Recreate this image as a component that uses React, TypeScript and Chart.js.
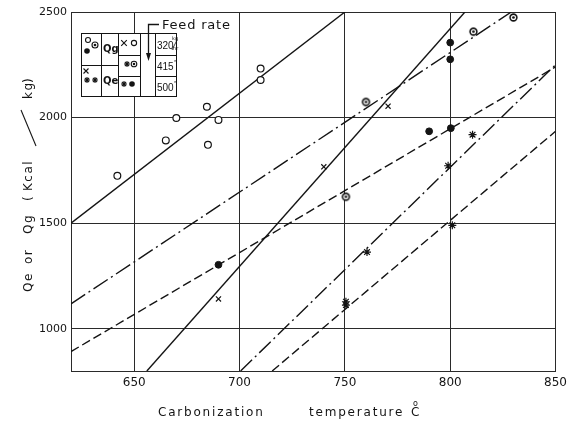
import React, { useEffect, useRef } from "react";
import { Chart, registerables } from "chart.js";
Chart.register(...registerables);

// ---- axes ----
const xMin = 620;
const xMax = 850;
const yMin = 800;
const yMax = 2500;
const xTicks = [650, 700, 750, 800, 850];
const yTicks = [1000, 1500, 2000, 2500];

// ---- fitted lines (end points in data units) ----
const lineQg320X = [620, 750];
const lineQg320Y = [1500, 2500];
const lineQe320X = [656, 807];
const lineQe320Y = [800, 2500];
const lineQg415X = [620, 829];
const lineQg415Y = [1118, 2500];
const lineQg500X = [620, 850];
const lineQg500Y = [892, 2240];
const lineQe415X = [700.5, 850];
const lineQe415Y = [800, 2250];
const lineQe500X = [715.5, 850];
const lineQe500Y = [800, 1935];

// ---- measured points ----
const openCircleX = [642, 665, 670, 684.5, 690, 685, 710, 710];
const openCircleY = [1724, 1892, 1998, 2051, 1989, 1871, 2232, 2178];
const dotCircleX = [760, 811, 830, 750.5];
const dotCircleY = [2074, 2407, 2474, 1625];
const filledX = [800, 800, 690, 790, 800.3];
const filledY = [2355, 2276, 1303, 1935, 1950];
const crossX = [690, 740, 770.5];
const crossY = [1141, 1767, 2054];
const starX = [750.5, 750.5, 760.5, 799, 810.6, 801];
const starY = [1112, 1128, 1363, 1772, 1919, 1490];

const xTitleWords = ["Carbonization", "temperature", "C"];
const yTitleWords = ["Qe", "or", "Qg", "(", "Kcal", "kg", ")"];
const feedRates = ["320", "415", "500"];

const FONT = '"DejaVu Sans", sans-serif';
const NUMFONT = '"Liberation Sans", sans-serif';
const INK = "#141414";

function makeDotCircle(r: number): HTMLCanvasElement {
  const c = document.createElement("canvas");
  const s = Math.ceil(2 * r + 4);
  c.width = s;
  c.height = s;
  const g = c.getContext("2d")!;
  g.strokeStyle = INK;
  g.fillStyle = "#fff";
  g.lineWidth = 1.6;
  g.beginPath();
  g.arc(s / 2, s / 2, r, 0, Math.PI * 2);
  g.fill();
  g.stroke();
  g.fillStyle = INK;
  g.beginPath();
  g.arc(s / 2, s / 2, r * 0.4, 0, Math.PI * 2);
  g.fill();
  return c;
}

const pts = (xs: number[], ys: number[]) => xs.map((x, i) => ({ x, y: ys[i] }));

function drawMark(ctx: CanvasRenderingContext2D, kind: string, x: number, y: number, r: number) {
  ctx.save();
  ctx.strokeStyle = INK;
  ctx.fillStyle = INK;
  ctx.lineWidth = 1.1;
  ctx.beginPath();
  if (kind === "open" || kind === "dot") {
    ctx.arc(x, y, r, 0, Math.PI * 2);
    ctx.stroke();
    if (kind === "dot") {
      ctx.beginPath();
      ctx.arc(x, y, r * 0.45, 0, Math.PI * 2);
      ctx.fill();
    }
  } else if (kind === "filled") {
    ctx.arc(x, y, r, 0, Math.PI * 2);
    ctx.fill();
  } else if (kind === "cross") {
    ctx.moveTo(x - r, y - r);
    ctx.lineTo(x + r, y + r);
    ctx.moveTo(x + r, y - r);
    ctx.lineTo(x - r, y + r);
    ctx.stroke();
  } else if (kind === "star") {
    for (let k = 0; k < 4; k++) {
      const a = (k * Math.PI) / 4;
      ctx.moveTo(x - r * Math.cos(a), y - r * Math.sin(a));
      ctx.lineTo(x + r * Math.cos(a), y + r * Math.sin(a));
    }
    ctx.stroke();
  }
  ctx.restore();
}

const decorPlugin = {
  id: "decor",
  afterDraw(chart: any) {
    const ctx: CanvasRenderingContext2D = chart.ctx;
    ctx.save();
    ctx.fillStyle = INK;
    ctx.strokeStyle = INK;
    ctx.textBaseline = "alphabetic";
    ctx.textAlign = "left";

    // x title
    ctx.font = `12px ${FONT}`;
    (ctx as any).letterSpacing = "1.8px";
    ctx.fillText(xTitleWords[0], 158, 416);
    ctx.fillText(xTitleWords[1], 309, 416);
    ctx.fillText(xTitleWords[2], 411, 416);
    (ctx as any).letterSpacing = "0px";
    ctx.font = `8px ${FONT}`;
    ctx.fillText("o", 413, 406);

    // y title (rotated)
    ctx.save();
    ctx.translate(32, 0);
    ctx.rotate(-Math.PI / 2);
    ctx.font = `12px ${FONT}`;
    (ctx as any).letterSpacing = "1.5px";
    const yPos = [292, 264, 234, 201, 191, 99, 83];
    yTitleWords.forEach((w, i) => {
      ctx.fillText(w, -yPos[i], 0);
    });
    ctx.restore();
    // long slash between Kcal and kg
    ctx.beginPath();
    ctx.lineWidth = 1.1;
    ctx.moveTo(36, 146);
    ctx.lineTo(21, 110);
    ctx.stroke();

    // legend table
    ctx.fillStyle = "#fff";
    ctx.fillRect(81, 33, 96, 64);
    ctx.lineWidth = 1;
    ctx.strokeStyle = INK;
    ctx.strokeRect(81.5, 33.5, 95, 63);
    ctx.beginPath();
    [101.5, 118.5, 140.5, 155.5].forEach((x) => {
      ctx.moveTo(x, 33.5);
      ctx.lineTo(x, 96.5);
    });
    ctx.moveTo(81.5, 65.5);
    ctx.lineTo(118.5, 65.5);
    ctx.moveTo(118.5, 55.5);
    ctx.lineTo(140.5, 55.5);
    ctx.moveTo(118.5, 76.5);
    ctx.lineTo(140.5, 76.5);
    ctx.moveTo(155.5, 55.5);
    ctx.lineTo(176.5, 55.5);
    ctx.moveTo(155.5, 76.5);
    ctx.lineTo(176.5, 76.5);
    ctx.stroke();

    // arrow + Feed rate
    ctx.beginPath();
    ctx.lineWidth = 1.3;
    ctx.moveTo(159, 24.5);
    ctx.lineTo(148.5, 24.5);
    ctx.lineTo(148.5, 55);
    ctx.stroke();
    ctx.fillStyle = INK;
    ctx.beginPath();
    ctx.moveTo(146, 53);
    ctx.lineTo(151, 53);
    ctx.lineTo(148.5, 61);
    ctx.closePath();
    ctx.fill();
    ctx.font = `13px ${FONT}`;
    (ctx as any).letterSpacing = "0.8px";
    ctx.fillText("Feed rate", 162, 29);
    (ctx as any).letterSpacing = "0px";

    // legend labels
    ctx.font = `bold 10px ${FONT}`;
    ctx.fillText("Qg", 103, 52);
    ctx.fillText("Qe", 103, 84);
    ctx.font = `10px ${NUMFONT}`;
    ctx.fillText(feedRates[0], 157, 49);
    ctx.fillText(feedRates[1], 157, 70);
    ctx.fillText(feedRates[2], 157, 91);
    ctx.font = `5px ${FONT}`;
    ctx.fillText("kg", 172, 40);
    ctx.fillText("hr", 173, 50);
    ctx.beginPath();
    ctx.lineWidth = 0.8;
    ctx.moveTo(172, 50);
    ctx.lineTo(177, 40);
    ctx.stroke();
    ctx.font = `8px ${FONT}`;
    ctx.fillText("\u2033", 174, 67);
    ctx.fillText("\u2033", 174, 88);

    // legend symbols
    drawMark(ctx, "open", 88, 40, 2.5);
    drawMark(ctx, "dot", 95, 45, 3);
    drawMark(ctx, "filled", 87, 51, 2.8);
    drawMark(ctx, "cross", 86, 71, 2.5);
    drawMark(ctx, "star", 87, 80, 3);
    drawMark(ctx, "star", 95, 80, 3);
    drawMark(ctx, "cross", 124, 43, 2.8);
    drawMark(ctx, "open", 134, 43, 2.6);
    drawMark(ctx, "star", 127, 64, 3);
    drawMark(ctx, "dot", 134, 64, 2.8);
    drawMark(ctx, "star", 124, 84, 3);
    drawMark(ctx, "filled", 132, 84, 2.8);

    ctx.restore();
  },
};

export default function App() {
  const ref = useRef<HTMLCanvasElement>(null);
  useEffect(() => {
    document.body.style.margin = "0";
    const canvas = ref.current!;
    const dotImg = makeDotCircle(3.4);

    const lineDs = (xs: number[], ys: number[], dash: number[]) => ({
      data: pts(xs, ys),
      showLine: true,
      borderColor: INK,
      borderWidth: 1.4,
      borderDash: dash,
      pointRadius: 0,
      pointHoverRadius: 0,
      fill: false,
    });

    const chart = new Chart(canvas, {
      type: "scatter",
      data: {
        datasets: [
          {
            data: pts(openCircleX, openCircleY),
            pointStyle: "circle",
            pointRadius: 3.4,
            pointBackgroundColor: "#fff",
            pointBorderColor: INK,
            pointBorderWidth: 1.2,
          } as any,
          {
            data: pts(dotCircleX, dotCircleY),
            pointStyle: dotImg,
            pointRadius: 4,
          },
          {
            data: pts(filledX, filledY),
            pointStyle: "circle",
            pointRadius: 3.4,
            pointBackgroundColor: INK,
            pointBorderColor: INK,
            pointBorderWidth: 1,
          },
          {
            data: pts(crossX, crossY),
            pointStyle: "crossRot",
            pointRadius: 3.6,
            pointBorderColor: INK,
            pointBorderWidth: 1.2,
          },
          {
            data: pts(starX, starY),
            pointStyle: "star",
            pointRadius: 4,
            pointBorderColor: INK,
            pointBorderWidth: 1.2,
          },
          lineDs(lineQg320X, lineQg320Y, []),
          lineDs(lineQe320X, lineQe320Y, []),
          lineDs(lineQg415X, lineQg415Y, [17, 4, 2, 4]),
          lineDs(lineQg500X, lineQg500Y, [9, 4]),
          lineDs(lineQe415X, lineQe415Y, [16, 4, 2, 4]),
          lineDs(lineQe500X, lineQe500Y, [9, 4]),
        ] as any,
      },
      options: {
        responsive: false,
        animation: false,
        devicePixelRatio: 1,
        layout: { padding: { top: 12, right: 13, left: 0, bottom: 0 } },
        plugins: {
          legend: { display: false },
          tooltip: { enabled: false },
          title: { display: false },
        },
        events: [],
        scales: {
          x: {
            type: "linear",
            min: xMin,
            max: xMax,
            afterBuildTicks: (s: any) => {
              s.ticks = xTicks.map((v) => ({ value: v }));
            },
            afterFit: (s: any) => {
              s.height = 58;
            },
            grid: { color: "#2a2a2a", lineWidth: 1, drawTicks: false },
            border: { display: true, color: "#2a2a2a", width: 1 },
            ticks: {
              padding: 5,
              maxRotation: 0,
              autoSkip: false,
              color: INK,
              font: { family: FONT, size: 12 },
              callback: (v: any) => String(v),
            },
          },
          y: {
            type: "linear",
            min: yMin,
            max: yMax,
            afterBuildTicks: (s: any) => {
              s.ticks = yTicks.map((v) => ({ value: v }));
            },
            afterFit: (s: any) => {
              s.width = 71;
            },
            grid: { color: "#2a2a2a", lineWidth: 1, drawTicks: false },
            border: { display: true, color: "#2a2a2a", width: 1 },
            ticks: {
              padding: 4,
              color: INK,
              font: { family: FONT, size: 11 },
              callback: (v: any) => String(v),
            },
          },
        },
      } as any,
      plugins: [decorPlugin],
    });
    return () => chart.destroy();
  }, []);

  return (
    <div style={{ position: "absolute", left: 0, top: 0, width: 572, height: 429, background: "#fff" }}>
      <canvas ref={ref} width={572} height={429} style={{ width: 572, height: 429, display: "block" }} />
    </div>
  );
}
